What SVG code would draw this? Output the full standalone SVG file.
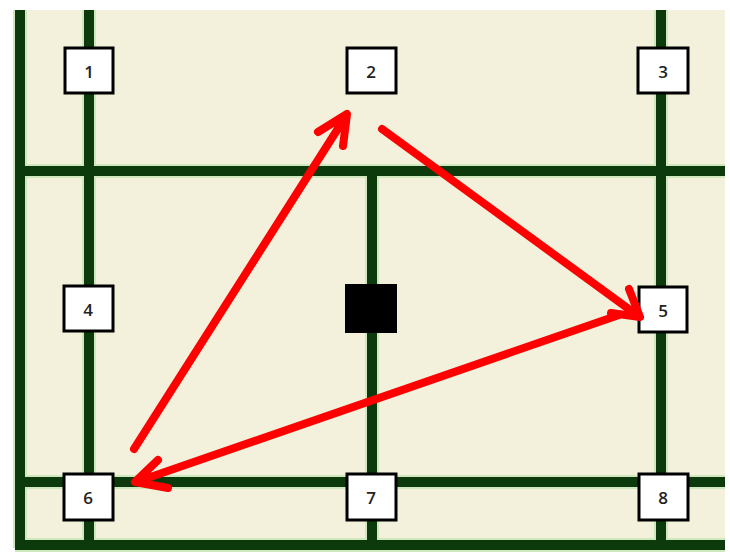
<svg xmlns="http://www.w3.org/2000/svg" width="730" height="553" viewBox="0 0 730 553">
<style>
.halo{stroke:#cfe8bd;stroke-width:14;fill:none}
.grid{stroke:#0c3a0c;stroke-width:10;fill:none}
.box{fill:#ffffff;stroke:#000;stroke-width:3}
.lbl{font-family:"Open Sans","Liberation Sans",sans-serif;font-size:17px;font-weight:600;fill:#222;text-anchor:middle;dominant-baseline:central}
.arrow{stroke:#ff0000;stroke-width:8;fill:none;stroke-linecap:round;stroke-linejoin:round}
</style>
<rect x="0" y="0" width="730" height="553" fill="#ffffff"/>
<rect x="15" y="10" width="710" height="540" fill="#f3f1dc"/>
<g id="grid">
<path class="halo" d="M20 10V548M89 10V548M661 10V548M372 172V548M15 171H725M15 482H725M15 545H725"/>
<path class="grid" d="M20 10V548M89 10V548M661 10V548M372 172V548M15 171H725M15 482H725M15 545H725"/>
</g>
<g id="node1"><rect class="box" x="65" y="48" width="48" height="45"/><text class="lbl" x="89" y="71">1</text></g>
<g id="node2"><rect class="box" x="347" y="48" width="49" height="45"/><text class="lbl" x="371" y="71">2</text></g>
<g id="node3"><rect class="box" x="638" y="48" width="50" height="45"/><text class="lbl" x="663" y="71">3</text></g>
<g id="node4"><rect class="box" x="64" y="286" width="49" height="45"/><text class="lbl" x="88" y="309">4</text></g>
<g id="block"><rect x="345" y="284" width="52" height="49" fill="#000"/></g>
<g id="node5"><rect class="box" x="639" y="287" width="48" height="45"/><text class="lbl" x="663" y="310">5</text></g>
<g id="node6"><rect class="box" x="64" y="474" width="49" height="46"/><text class="lbl" x="88" y="497">6</text></g>
<g id="node7"><rect class="box" x="347" y="474" width="49" height="46"/><text class="lbl" x="371" y="497">7</text></g>
<g id="node8"><rect class="box" x="639" y="474" width="49" height="46"/><text class="lbl" x="663" y="497">8</text></g>
<g id="connectors">
<path class="arrow" d="M134 449L346 116M318 132L347 114L343 146"/>
<path class="arrow" d="M382 129L637 315M629 289L640 317L611 313"/>
<path class="arrow" d="M619 315L136 482M158 460L135 482L168 488"/>
</g>
</svg>
